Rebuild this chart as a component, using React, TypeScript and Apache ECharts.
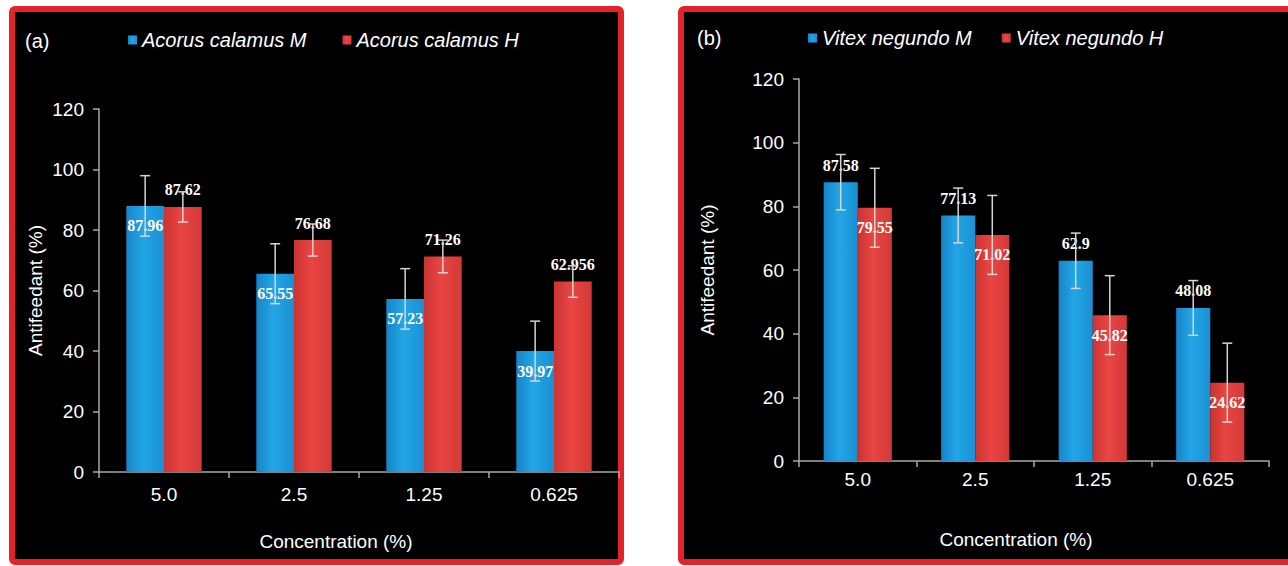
import React, { useEffect, useRef } from "react";
import * as echarts from "echarts";

const categories = ["5.0", "2.5", "1.25", "0.625"];
const acorusM = [87.96, 65.55, 57.23, 39.97];
const acorusH = [87.62, 76.68, 71.26, 62.956];
const acorusMSd = [10.0, 9.9, 10.0, 9.9];
const acorusHSd = [5.0, 5.3, 5.4, 5.2];
const vitexM = [87.58, 77.13, 62.9, 48.08];
const vitexH = [79.55, 71.02, 45.82, 24.62];
const vitexMSd = [8.7, 8.6, 8.7, 8.6];
const vitexHSd = [12.4, 12.4, 12.4, 12.4];
const yMin = 0;
const yMax = 120;
const yStep = 20;

const FONT = "'Liberation Sans', Arial, sans-serif";
const SERIF = "'Liberation Serif', 'DejaVu Serif', serif";
const GAP = 0.42;

const blueGrad = () =>
  new echarts.graphic.LinearGradient(0, 0, 1, 0, [
    { offset: 0, color: "#1684c8" },
    { offset: 0.45, color: "#22a6e6" },
    { offset: 1, color: "#1a90d4" },
  ]);
const redGrad = () =>
  new echarts.graphic.LinearGradient(0, 0, 1, 0, [
    { offset: 0, color: "#c93432" },
    { offset: 0.45, color: "#ea4542" },
    { offset: 1, color: "#d23a38" },
  ]);

function errData(vals: number[], sd: number[]) {
  return vals.map((v, i) => [i, v - sd[i], v + sd[i]]);
}

function errSeries(name: string, axisIdx: number, side: number, data: number[][]) {
  return {
    type: "custom",
    name,
    xAxisIndex: axisIdx,
    yAxisIndex: axisIdx,
    z: 3,
    silent: true,
    data,
    renderItem: (params: any, api: any) => {
      const idx = api.value(0);
      const lo = api.value(1);
      const hi = api.value(2);
      const band = api.size([1, 0])[0];
      const barW = (band * (1 - GAP)) / 2;
      const cx = api.coord([idx, 0])[0] + (side * barW) / 2;
      const yLo = api.coord([idx, lo])[1];
      const yHi = api.coord([idx, hi])[1];
      const style = { stroke: "#d4d4d4", lineWidth: 1.5 };
      return {
        type: "group",
        children: [
          { type: "line", shape: { x1: cx, y1: yLo, x2: cx, y2: yHi }, style },
          { type: "line", shape: { x1: cx - 5, y1: yHi, x2: cx + 5, y2: yHi }, style },
          { type: "line", shape: { x1: cx - 5, y1: yLo, x2: cx + 5, y2: yLo }, style },
        ],
      };
    },
  };
}

function barSeries(name: string, axisIdx: number, data: number[], color: any, inside: boolean) {
  return {
    type: "bar",
    name,
    xAxisIndex: axisIdx,
    yAxisIndex: axisIdx,
    data,
    barGap: "0%",
    barCategoryGap: GAP * 100 + "%",
    itemStyle: { color },
    label: {
      show: true,
      position: inside ? "insideTop" : "top",
      distance: inside ? 12 : 9,
      color: "#ffffff",
      fontFamily: SERIF,
      fontWeight: "bold",
      fontSize: 16,
    },
  };
}

const axisLabelStyle = { color: "#ffffff", fontFamily: FONT, fontSize: 19 };

function xAxis(gridIndex: number, nameGap: number, padRight: number, margin: number) {
  return {
    type: "category",
    gridIndex,
    data: categories,
    name: "Concentration (%)",
    nameLocation: "middle",
    nameGap,
    nameTextStyle: { ...axisLabelStyle, fontSize: 19, padding: [0, padRight, 0, 0] },
    axisLine: { lineStyle: { color: "#a8a8a8", width: 1.5 } },
    axisTick: { show: true, length: 6, lineStyle: { color: "#a8a8a8", width: 1.5 } },
    axisLabel: { ...axisLabelStyle, margin },
    splitLine: { show: false },
  };
}

function yAxis(gridIndex: number, nameGap: number) {
  return {
    type: "value",
    gridIndex,
    min: yMin,
    max: yMax,
    interval: yStep,
    name: "Antifeedant (%)",
    nameLocation: "middle",
    nameGap,
    nameRotate: 90,
    nameTextStyle: { ...axisLabelStyle, fontSize: 19 },
    axisLine: { show: true, lineStyle: { color: "#a8a8a8", width: 1.5 } },
    axisTick: { show: true, length: 6, lineStyle: { color: "#a8a8a8", width: 1.5 } },
    axisLabel: { ...axisLabelStyle, margin: 15 },
    splitLine: { show: false },
  };
}

function legend(names: string[], left: number, top: number, gap: number) {
  return {
    data: names,
    left,
    top,
    orient: "horizontal",
    icon: "rect",
    itemWidth: 9,
    itemHeight: 9,
    itemGap: gap,
    textStyle: { color: "#ffffff", fontFamily: FONT, fontSize: 20, fontStyle: "italic" },
  };
}

export default function App() {
  const ref = useRef<HTMLDivElement>(null);
  useEffect(() => {
    if (!ref.current) return;
    const chart = echarts.init(ref.current, undefined, { renderer: "svg" });
    chart.setOption({
      animation: false,
      backgroundColor: "#ffffff",
      title: [
        { text: "(a)", left: 20, top: 26, textStyle: { color: "#fff", fontFamily: FONT, fontSize: 20, fontWeight: "normal" } },
        { text: "(b)", left: 692, top: 23, textStyle: { color: "#fff", fontFamily: FONT, fontSize: 20, fontWeight: "normal" } },
      ],
      graphic: [
        { type: "rect", z: -10, shape: { x: 12, y: 9, width: 609, height: 553, r: 3 }, style: { fill: "#000", stroke: "#e3232a", lineWidth: 6 } },
        { type: "rect", z: -10, shape: { x: 681, y: 9, width: 700, height: 553, r: 3 }, style: { fill: "#000", stroke: "#e3232a", lineWidth: 6 } },
      ],
      legend: [
        legend(["Acorus calamus M", "Acorus calamus H"], 123, 25, 36),
        legend(["Vitex negundo M", "Vitex negundo H"], 803, 23, 30),
      ],
      grid: [
        { left: 99, top: 109, width: 520, height: 363 },
        { left: 799, top: 79, width: 470, height: 382 },
      ],
      xAxis: [xAxis(0, 60, 46, 13), xAxis(1, 69, 36, 9)],
      yAxis: [yAxis(0, 54), yAxis(1, 82)],
      series: [
        barSeries("Acorus calamus M", 0, acorusM, blueGrad(), true),
        barSeries("Acorus calamus H", 0, acorusH, redGrad(), false),
        errSeries("errAM", 0, -1, errData(acorusM, acorusMSd)),
        errSeries("errAH", 0, 1, errData(acorusH, acorusHSd)),
        barSeries("Vitex negundo M", 1, vitexM, blueGrad(), false),
        barSeries("Vitex negundo H", 1, vitexH, redGrad(), true),
        errSeries("errVM", 1, -1, errData(vitexM, vitexMSd)),
        errSeries("errVH", 1, 1, errData(vitexH, vitexHSd)),
      ],
    });
    return () => chart.dispose();
  }, []);
  return <div ref={ref} style={{ position: "absolute", left: 0, top: 0, width: 1288, height: 566 }} />;
}
